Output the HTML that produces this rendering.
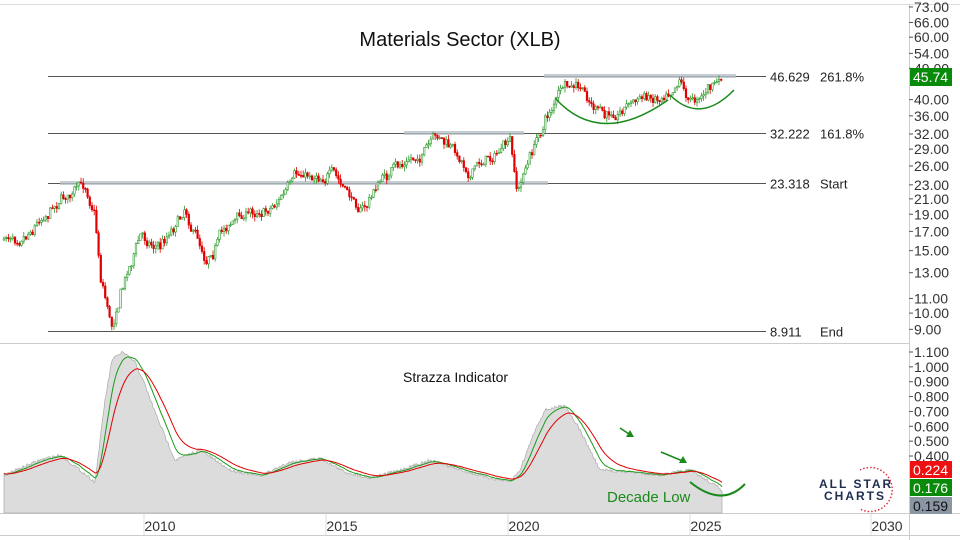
<!DOCTYPE html>
<html><head><meta charset="utf-8"><style>
html,body{margin:0;padding:0;background:#fff;}
svg{display:block;font-family:"Liberation Sans",sans-serif;}
</style></head><body>
<svg id="s" width="960" height="540" viewBox="0 0 960 540"></svg>
<script>
const NS="http://www.w3.org/2000/svg";const s=document.getElementById('s');
function el(t,a,txt){const e=document.createElementNS(NS,t);for(const k in a)e.setAttribute(k,a[k]);if(txt!==undefined)e.textContent=txt;s.appendChild(e);return e;}
el('rect',{x:0,y:0,width:960,height:540,fill:'#fff'});
el('line',{x1:0,y1:4.5,x2:960,y2:4.5,stroke:'#ddd'});
el('line',{x1:909.5,y1:4,x2:909.5,y2:540,stroke:'#ccc'});
el('line',{x1:0,y1:343.5,x2:909,y2:343.5,stroke:'#ccc'});
el('line',{x1:0,y1:513.5,x2:960,y2:513.5,stroke:'#ccc'});
el('line',{x1:0,y1:535.5,x2:960,y2:535.5,stroke:'#ccc'});
const PY=p=>76+(Math.log(46.629)-Math.log(p))*154;
const IY=v=>352+(1.1-v)*148.6;
[73,66,60,54,49,40,36,32,29,26,23,21,19,17,15,13,11,10,9].forEach(v=>{const y=PY(v);
el('line',{x1:909,y1:y,x2:913,y2:y,stroke:'#555'});
el('text',{x:914,y:y+5,'font-size':14,fill:'#333'},v.toFixed(2));});
[1.1,1.0,0.9,0.8,0.7,0.6,0.5,0.4].forEach(v=>{const y=IY(v);
el('line',{x1:909,y1:y,x2:913,y2:y,stroke:'#555'});
el('text',{x:914,y:y+5,'font-size':14,fill:'#333'},v.toFixed(3));});
[[2010,160],[2015,342],[2020,524],[2025,706],[2030,887]].forEach(([t,x])=>{
el('line',{x1:x-16,y1:514,x2:x-16,y2:535,stroke:'#ddd'});
el('text',{x:x,y:531,'font-size':14,fill:'#333','text-anchor':'middle'},t);});
[[46.629,'261.8%'],[32.222,'161.8%'],[23.318,'Start'],[8.911,'End']].forEach(([v,l])=>{const y=Math.round(PY(v))+.5;
el('line',{x1:48,y1:y,x2:766,y2:y,stroke:'#555'});
el('text',{x:770,y:y+5,'font-size':13,fill:'#222'},v.toFixed(3));
el('text',{x:820,y:y+5,'font-size':13,fill:'#222'},l);});
el('rect',{x:544,y:74,width:192,height:4,fill:'#b8c0c8',opacity:.8});
el('rect',{x:404,y:131,width:120,height:4,fill:'#b8c0c8',opacity:.8});
el('rect',{x:60,y:181,width:488,height:4,fill:'#b8c0c8',opacity:.8});
el('text',{x:460,y:46,'font-size':20,fill:'#111','text-anchor':'middle'},'Materials Sector (XLB)');
const pk=[[4,240],[30,225],[60,195],[85,188],[95,210],[100,270],[112,325],[120,290],[140,235],[160,245],[185,205],[205,255],[230,220],[270,205],[300,178],[330,170],[350,200],[365,208],[380,180],[420,155],[440,140],[470,170],[490,155],[510,145],[517,195],[525,170],[545,120],[560,90],[580,92],[605,120],[630,100],[660,95],[680,72],[690,100],[700,92],[722,80]];
function interp(a,x){for(let i=0;i<a.length-1;i++){if(x<=a[i+1][0]){const t=(x-a[i][0])/(a[i+1][0]-a[i][0]);return a[i][1]+t*(a[i+1][1]-a[i][1]);}}return a[a.length-1][1];}
let seed=7;const rnd=()=>{seed=(seed*16807)%2147483647;return seed/2147483647;};
let prev=interp(pk,4),wob=0;
for(let x=4;x<=722;x+=2.2){wob=wob*0.8+(rnd()-.5)*9;const tgt=interp(pk,x)+wob+(rnd()-.5)*6;const o=prev,c=tgt;const hi=Math.min(o,c)-rnd()*5,lo=Math.max(o,c)+rnd()*5;
const col=c<=o?'#2a9a2a':'#e00000';
el('line',{x1:x,y1:hi,x2:x,y2:lo,stroke:col,'stroke-width':.8});
el('rect',{x:x-.8,y:Math.min(o,c),width:1.6,height:Math.max(1,Math.abs(c-o)),fill:c<=o?'#fff':'#e00000',stroke:col,'stroke-width':.6});prev=c;}
el('path',{d:'M555,98 Q600,148 668,100',fill:'none',stroke:'#1a8a1a','stroke-width':1.5});
el('path',{d:'M670,95 Q700,125 734,90',fill:'none',stroke:'#1a8a1a','stroke-width':1.5});
el('rect',{x:910,y:68,width:42,height:18,fill:'#0a8a0a'});
el('text',{x:913,y:82,'font-size':14,fill:'#fff'},'45.74');
const gk=[[4,475],[40,460],[60,455],[80,470],[95,482],[105,400],[112,360],[122,352],[135,362],[145,385],[155,412],[175,460],[200,450],[230,470],[260,476],[290,462],[320,458],[345,472],[370,478],[400,470],[430,460],[460,470],[490,478],[510,482],[520,470],[535,430],[545,410],[565,405],[580,430],[600,470],[630,472],[660,475],[690,470],[710,482],[722,490]];
let g=[],d='M4,513 ';for(let x=4;x<=722;x++){const y=interp(gk,x)+(rnd()-.5)*3;g.push(y);d+='L'+x+','+y.toFixed(1)+' ';}
d+='L722,513Z';el('path',{d:d,fill:'#dcdcdc',stroke:'#aaa','stroke-width':.7});
function ema(a,n){const k=2/(n+1);let r=[],v=a[0];for(const x of a){v=v+k*(x-v);r.push(v);}return r;}
const gr=ema(g,12),rd=ema(g,28);
const line=(a,c)=>{let p='';a.forEach((y,i)=>p+=(i?'L':'M')+(i+4)+','+y.toFixed(1));el('path',{d:p,fill:'none',stroke:c,'stroke-width':1});};
line(gr,'#1a9a1a');line(rd,'#e00000');
el('text',{x:403,y:382,'font-size':14,fill:'#111'},'Strazza Indicator');
[[620,428,632,436],[661,452,685,462]].forEach(([a,b,c,e])=>{el('line',{x1:a,y1:b,x2:c,y2:e,stroke:'#1a8a1a','stroke-width':1.6});
el('path',{d:`M${c+2},${e+1} L${c-6},${e+1} L${c-2},${e-6}Z`,fill:'#1a8a1a'});});
el('path',{d:'M690,482 Q722,508 745,484',fill:'none',stroke:'#1a8a1a','stroke-width':2});
el('text',{x:607,y:502,'font-size':15,fill:'#1a8a1a'},'Decade Low');
el('text',{x:819,y:488,'font-size':12,'font-weight':'bold',fill:'#1e2d4e','letter-spacing':2},'ALL STAR');
el('text',{x:824,y:500,'font-size':12,'font-weight':'bold',fill:'#1e2d4e','letter-spacing':2},'CHARTS');
el('path',{d:'M860,470 A22,22 0 1 1 860,509',fill:'none',stroke:'#e03040','stroke-width':1.5,'stroke-dasharray':'1.5 2'});
[[0.224,'#ee1111','#fff'],[0.176,'#0a8a0a','#fff'],[0.159,'#8a96a4','#111']].forEach(([v,c,t],i)=>{const y=461+i*18;
el('rect',{x:910,y:y,width:42,height:17,fill:c});el('text',{x:913,y:y+14,'font-size':14,fill:t},v.toFixed(3));});
</script>
</body></html>
